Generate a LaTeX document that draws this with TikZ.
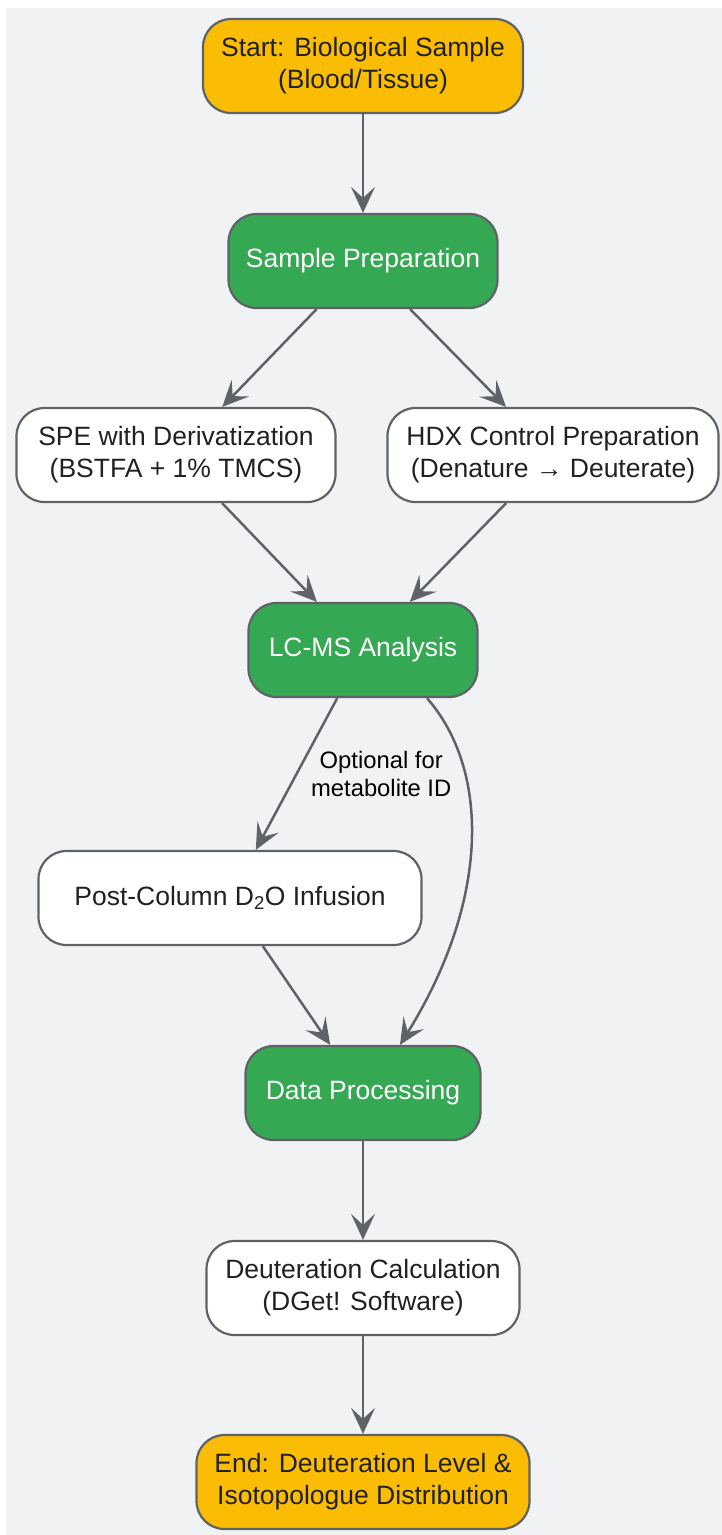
\documentclass[tikz,border=0pt]{standalone}
\usepackage{fontspec}
\setmainfont{Liberation Sans}
\usetikzlibrary{arrows.meta, positioning}
\definecolor{bgGray}{HTML}{F1F2F4}
\definecolor{edgeGray}{HTML}{5F6368}
\definecolor{textDark}{HTML}{202124}
\definecolor{termYellow}{HTML}{FBBC04}
\definecolor{procGreen}{HTML}{34A853}
\tikzset{
    baseNode/.style={rectangle, rounded corners=28pt, draw=edgeGray, line width=2.2pt, minimum height=94pt, align=center, text=textDark, font=\fontsize{26.5}{32}\selectfont},
    termNode/.style={baseNode, fill=termYellow},
    procNode/.style={baseNode, fill=procGreen, text=white},
    taskNode/.style={baseNode, fill=white},
    flowEdge/.style={-{Stealth[length=26pt, width=24pt, inset=11pt]}, draw=edgeGray, line width=2.5pt},
    edgeLabel/.style={font=\fontsize{23.8}{28}\selectfont, align=center, text=black},
}
\newcommand{\drawFlow}[3][flowEdge]{
    \draw[#1] (#2) -- (#3);
}

\begin{document}
\begin{tikzpicture}[x=1pt, y=-1pt]
        \fill[white] (0,0) rectangle (722,1535);
        \fill[bgGray] (6,8) rectangle (722,1535);
        \useasboundingbox (0,0) rectangle (722,1535);

        \node[termNode, minimum width=320pt] (start) at (363,66) {Start: Biological Sample\\(Blood/Tissue)};
        \node[procNode, minimum width=269pt] (prep) at (363,261) {Sample Preparation};
        \node[taskNode, minimum width=319pt] (spe) at (176,455) {SPE with Derivatization\\(BSTFA + 1\% TMCS)};
        \node[taskNode, minimum width=331pt] (hdx) at (553,455) {HDX Control Preparation\\(Denature → Deuterate)};
        \node[procNode, minimum width=229pt] (lcms) at (363,650) {LC-MS Analysis};
        \node[taskNode, minimum width=383pt] (post) at (230,898) {Post-Column D\textsubscript{2}O Infusion};
        \node[procNode, minimum width=235pt] (data) at (363,1093) {Data Processing};
        \node[taskNode, minimum width=313pt] (deut) at (363,1288) {Deuteration Calculation\\(DGet! Software)};
        \node[termNode, minimum width=333pt] (end) at (363,1482) {End: Deuteration Level \&\\Isotopologue Distribution};

        \drawFlow{start}{prep}
        \drawFlow{prep}{spe}
        \drawFlow{prep}{hdx}
        \drawFlow{spe}{lcms}
        \drawFlow{hdx}{lcms}
        \draw[flowEdge] (lcms) -- node[right=10pt, edgeLabel] {Optional for\\metabolite ID} (post);
        \draw[flowEdge] ([xshift=64pt]lcms.south) .. controls +(63,72) and +(90,-145) .. ([xshift=37pt]data.north);
        \drawFlow{post}{data}
        \drawFlow{data}{deut}
        \drawFlow{deut}{end}
    \end{tikzpicture}
\end{document}
